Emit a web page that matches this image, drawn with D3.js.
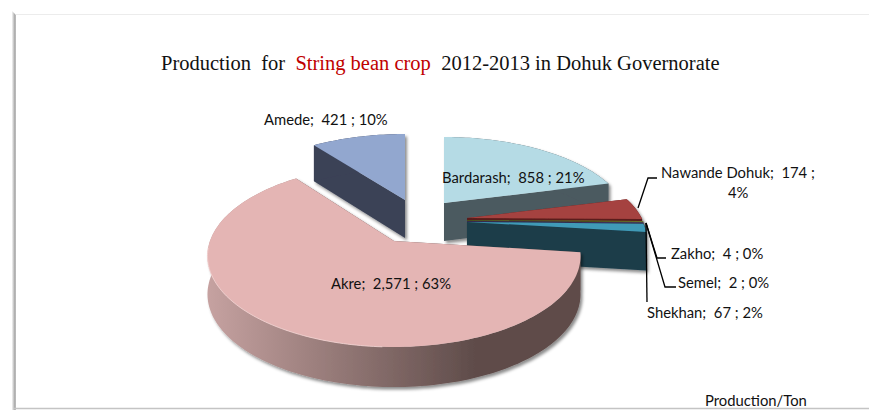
<!DOCTYPE html>
<html><head><meta charset="utf-8">
<script src="https://cdn.jsdelivr.net/npm/d3@7/dist/d3.min.js"></script>
<style>html,body{margin:0;padding:0;background:#fff}svg{display:block}text{white-space:pre}</style>
</head><body><svg id="c" width="869" height="410"></svg>
<script>
const categories=["Bardarash","Nawande Dohuk","Zakho","Semel","Shekhan","Akre","Amede"];
const values=[858,174,4,2,67,2571,421];
const shares=["21%","4%","0%","0%","2%","63%","10%"];
const topColors=["#b5dbe5","#a5423f","#8f9a3a","#6b4f94","#3f9ab7","#e4b5b4","#92a7cf"];
const sideColors=["#4c5a60","#5a1f1d","#4a4f1e","#372a4e","#1c3c49","url(#rim)","#3b4257"];
const apexX=[444,467,467,467,467,394,405];
const apexY=[203,218,220,221,222,241,200];
const radii=[1,0.97,0.975,0.975,0.975,1,1];
const scaleX=[180,180,180,180,180,184,180];
const scaleY=[81.6,81.6,81.6,81.6,81.6,88.6,81.6];
const persp=[0.237,0.237,0.237,0.237,0.237,0.164,0.237];
const drawOrder=[6,0,1,2,3,4,5];

const svg=d3.select("#c");
const defs=svg.append("defs");
const rim=defs.append("linearGradient").attr("id","rim").attr("gradientUnits","userSpaceOnUse")
  .attr("x1",207).attr("x2",475).attr("y1",0).attr("y2",0);
rim.append("stop").attr("offset",0).attr("stop-color","#c6a2a1");
rim.append("stop").attr("offset",0.4).attr("stop-color","#9d807e");
rim.append("stop").attr("offset",1).attr("stop-color","#5f4c4a");
const barG=defs.append("linearGradient").attr("id","bar");
barG.append("stop").attr("offset",0).attr("stop-color","#f4f4f4");
barG.append("stop").attr("offset",0.7).attr("stop-color","#a8a8a8");
barG.append("stop").attr("offset",1).attr("stop-color","#c4c4c4");
const fl=defs.append("filter").attr("id","sh").attr("x","-10%").attr("y","-10%").attr("width","125%").attr("height","125%");
fl.append("feDropShadow").attr("dx",2).attr("dy",2.5).attr("stdDeviation",1.5).attr("flood-color","#000").attr("flood-opacity",0.45);

// frame
svg.append("path").attr("d","M12,11L16,15L16,410L12,410Z").attr("fill","url(#bar)");
svg.append("line").attr("x1",16).attr("x2",869).attr("y1",14.5).attr("y2",14.5).attr("stroke","#ececec");
svg.append("line").attr("x1",14).attr("x2",869).attr("y1",408.5).attr("y2",408.5).attr("stroke","#c4c4c4").attr("stroke-width",1.5);

const arcs=d3.pie().sort(null).value(d=>d)(values);
const depth=38;
const sx=i=>d3.scaleLinear().domain([-1,1]).range([-scaleX[i],scaleX[i]]);
const sy=i=>d3.scaleLinear().domain([-1,1]).range([scaleY[i],-scaleY[i]]);
function pt(i,a,r,z){
  const X=r*radii[i]*Math.sin(a),Y=r*radii[i]*Math.cos(a),w=1+persp[i]*Y;
  return [apexX[i]+sx(i)(X/w),apexY[i]+sy(i)(Y/w)+z*depth/Math.pow(w,0.3)];
}
const line=d3.line();
function rimPts(i,z,rev){
  const s=arcs[i],n=Math.max(2,Math.ceil((s.endAngle-s.startAngle)*40));
  const pts=d3.range(n+1).map(j=>pt(i,s.startAngle+(s.endAngle-s.startAngle)*j/n,1,z));
  return rev?pts.reverse():pts;
}
const pie=svg.append("g");
drawOrder.forEach(i=>{
  const s=arcs[i],g=pie.append("g").attr("filter","url(#sh)");
  const wall=a=>[pt(i,0,0,0),pt(i,a,1,0),pt(i,a,1,1),pt(i,0,0,1)];
  const plain=sideColors[i].startsWith("url")?"#5f4c4a":sideColors[i];
  g.append("path").attr("d",line(wall(s.startAngle))+"Z").attr("fill",plain);
  g.append("path").attr("d",line(wall(s.endAngle))+"Z").attr("fill",plain);
  g.append("path").attr("d",line(rimPts(i,0,false).concat(rimPts(i,1,true)))+"Z").attr("fill",sideColors[i]);
  g.append("path").attr("d",line([pt(i,0,0,0)].concat(rimPts(i,0,false)))+"Z").attr("fill",topColors[i]);
});
// highlight along the front edge of the largest slice
const ak=5,akS=arcs[ak];
const hi=d3.range(akS.startAngle+1.5,akS.endAngle-1.0,0.02).map(a=>pt(ak,a,1,0));
pie.append("path").attr("d",line(hi)).attr("fill","none").attr("stroke","#f2d2d1").attr("stroke-width",1).attr("opacity",0.85);

// leaders
const hub=[646,223];
const leaders=[
 [[638,208],[648,178],[657,178]],
 [hub,[657,258],[666,258]],
 [hub,[665,287],[676,287]],
 [hub,[647,302]]
];
svg.append("g").selectAll("path").data(leaders).join("path").attr("d",d=>line(d))
  .attr("fill","none").attr("stroke","#000").attr("stroke-width",1.3);

// text
const title=svg.append("text").attr("x",161).attr("y",70).attr("font-family","Liberation Serif").attr("font-size",20.5).attr("fill","#111");
title.append("tspan").text("Production  for  ");
title.append("tspan").attr("fill","#c00000").text("String bean crop");
title.append("tspan").text("  2012-2013 in Dohuk Governorate");

const fmt=d3.format(",");
const lab=i=>`${categories[i]};  ${fmt(values[i])} ; ${shares[i]}`;
const labels=[
 {t:lab(6),x:264,y:125},
 {t:lab(0),x:442,y:183},
 {t:lab(5),x:331,y:289},
 {t:`${categories[1]};  ${values[1]} ;`,x:661,y:178},
 {t:shares[1],x:728,y:198},
 {t:lab(2),x:671,y:259},
 {t:lab(3),x:678,y:288},
 {t:lab(4),x:647,y:318},
 {t:"Production/Ton",x:705,y:406}
];
svg.append("g").selectAll("text").data(labels).join("text")
  .attr("x",d=>d.x).attr("y",d=>d.y).text(d=>d.t)
  .attr("font-family","Lato").attr("font-size",14.8).attr("fill","#111");
</script></body></html>
